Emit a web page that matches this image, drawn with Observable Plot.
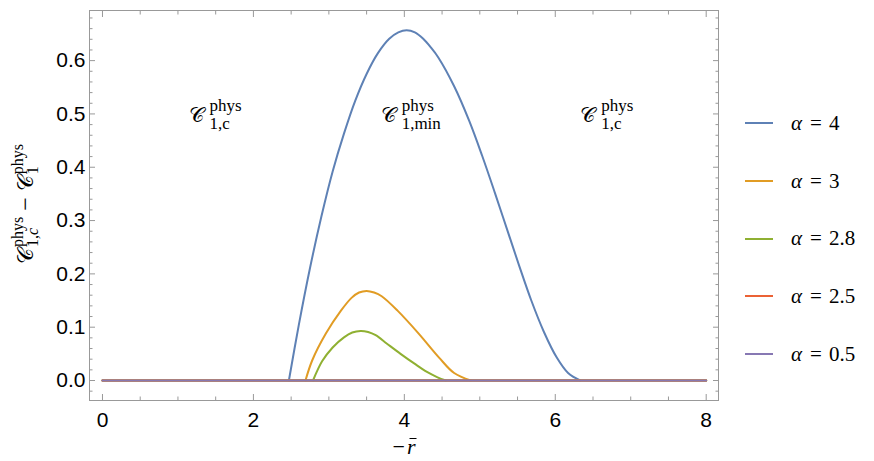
<!DOCTYPE html>
<html>
<head>
<meta charset="utf-8">
<script src="https://cdn.jsdelivr.net/npm/d3@7"></script>
<script src="https://cdn.jsdelivr.net/npm/@observablehq/plot@0.6"></script>
<style>
  body { margin: 0; background: #fff; }
  #wrap { position: relative; width: 874px; height: 461px; overflow: hidden; background: #fff; }
  #wrap svg { position: absolute; left: 0; top: 0; }
  .cal { font-family: "DejaVu Sans", "Liberation Serif", serif; font-style: normal; font-size: 22px; }
  #ylab { position: absolute; left: 30px; top: 204px; transform: translate(-50%, -50%) rotate(-90deg);
          white-space: nowrap; font-family: "Liberation Serif", serif; font-size: 24px; line-height: 30px; color: #000; }
  #ylab .ss { display: inline-flex; flex-direction: column; position: relative; top: -10px; font-size: 16px; line-height: 15px; vertical-align: baseline; margin-left: 1px; }
  #ylab .op { margin: 0 6px; }
  #xlab { position: absolute; left: 404px; top: 437px; transform: translateX(-50%); white-space: nowrap;
          font-family: "Liberation Serif", serif; font-size: 22px; line-height: 20px; }
  #xlab .rb { position: relative; display: inline-block; margin-left: 2px; }
  #xlab .bar { position: absolute; left: 3px; right: -1px; top: 1px; border-top: 1.3px solid #000; }
  #legend { position: absolute; left: 745px; top: 94.5px; font-family: "Liberation Serif", serif; font-size: 21px; }
  #legend .row { height: 57.7px; display: flex; align-items: center; }
  #legend .sw { width: 28px; height: 2px; margin-right: 18px; }
  #legend .eq { margin: 0 7px 0 8px; }
</style>
</head>
<body>
<div id="wrap"></div>
<script>
// ---- data ----
const alpha4X = [0, 2.47, 2.60, 2.75, 2.90, 3.05, 3.20, 3.35, 3.50, 3.65, 3.80, 3.92, 4.03,
                 4.14, 4.25, 4.35, 4.45, 4.66, 4.86, 5.03, 5.20, 5.36, 5.52, 5.68, 5.85, 6.02, 6.17, 6.33, 8];
const alpha4Y = [0, 0, 0.103, 0.211, 0.307, 0.392, 0.463, 0.525, 0.575, 0.614, 0.641, 0.653, 0.657,
                 0.653, 0.641, 0.625, 0.606, 0.552, 0.487, 0.422, 0.352, 0.284, 0.216, 0.151, 0.091, 0.043, 0.014, 0, 0];

const alpha3X = [0, 2.69, 2.78, 2.96, 3.16, 3.30, 3.40, 3.50, 3.60, 3.70, 3.91, 4.19, 4.46, 4.66, 4.88, 8];
const alpha3Y = [0, 0, 0.038, 0.088, 0.131, 0.155, 0.165, 0.168, 0.165, 0.158, 0.131, 0.088, 0.043, 0.014, 0, 0];

const alpha28X = [0, 2.79, 2.91, 3.05, 3.20, 3.31, 3.42, 3.52, 3.62, 3.77, 3.95, 4.13, 4.30, 4.44, 4.55, 8];
const alpha28Y = [0, 0, 0.036, 0.062, 0.081, 0.090, 0.093, 0.091, 0.085, 0.069, 0.050, 0.032, 0.016, 0.006, 0, 0];

const alpha25X = [0, 8];
const alpha25Y = [0, 0];

const alpha05X = [0, 8];
const alpha05Y = [0, 0];

const seriesNames = ["4", "3", "2.8", "2.5", "0.5"];
const seriesColors = ["#5E81B5", "#E19C24", "#8FB032", "#EB6235", "#8778B3"];

const xMajor = [0, 2, 4, 6, 8];
const xMinor = [0.5, 1, 1.5, 2.5, 3, 3.5, 4.5, 5, 5.5, 6.5, 7, 7.5];
const yMajor = [0, 0.1, 0.2, 0.3, 0.4, 0.5, 0.6];
const yMinor = [-0.02, 0.02, 0.04, 0.06, 0.08, 0.12, 0.14, 0.16, 0.18, 0.22, 0.24, 0.26, 0.28,
                0.32, 0.34, 0.36, 0.38, 0.42, 0.44, 0.46, 0.48, 0.52, 0.54, 0.56, 0.58, 0.62, 0.64, 0.66, 0.68];

const regionX = [1.14, 3.686, 6.33];
const regionY = [0.484, 0.484, 0.484];
const regionSup = ["phys", "phys", "phys"];
const regionSub = ["1,c", "1,min", "1,c"];

// ---- build tables ----
const seriesXY = [[alpha4X, alpha4Y], [alpha3X, alpha3Y], [alpha28X, alpha28Y], [alpha25X, alpha25Y], [alpha05X, alpha05Y]];
const seriesData = seriesXY.map(([xs, ys]) => xs.map((x, i) => ({x, y: ys[i], i, n: xs.length})));
const regions = regionX.map((x, i) => ({x, y: regionY[i], sup: regionSup[i], sub: regionSub[i]}));

const gray = "#999";
const serif = "Liberation Serif, serif";
const fmtY = d3.format(".1f");

// bump part (smooth) and flat zero part (straight) of each series
const lineMarks = seriesData.flatMap((d, k) => {
  const bump = d.filter(p => p.i > 0 && p.i < p.n - 1);
  const flat = d.filter(p => p.y === 0);
  const marks = [Plot.line(flat, {x: "x", y: "y", stroke: seriesColors[k], strokeWidth: 2})];
  if (bump.length > 2) marks.push(Plot.line(bump, {x: "x", y: "y", stroke: seriesColors[k], strokeWidth: 2, curve: "catmull-rom"}));
  return marks;
});

const plot = Plot.plot({
  width: 874,
  height: 461,
  marginTop: 10,
  marginBottom: 61,
  marginLeft: 89,
  marginRight: 156,
  x: {domain: [-0.172, 8.163]},
  y: {domain: [-0.0375, 0.694]},
  style: {fontFamily: "Liberation Sans, Arial, sans-serif", background: "white", overflow: "visible"},
  marks: [
    Plot.frame({stroke: gray, strokeWidth: 1}),
    // inward ticks on all four sides
    Plot.axisX({anchor: "bottom", ticks: xMajor, tickSize: -6, fill: "none", stroke: gray, label: null}),
    Plot.axisX({anchor: "bottom", ticks: xMinor, tickSize: -3.5, fill: "none", stroke: gray, label: null}),
    Plot.axisX({anchor: "top", ticks: xMajor, tickSize: -6, fill: "none", stroke: gray, label: null}),
    Plot.axisX({anchor: "top", ticks: xMinor, tickSize: -3.5, fill: "none", stroke: gray, label: null}),
    Plot.axisY({anchor: "left", ticks: yMajor, tickSize: -6, fill: "none", stroke: gray, label: null}),
    Plot.axisY({anchor: "left", ticks: yMinor, tickSize: -3.5, fill: "none", stroke: gray, label: null}),
    Plot.axisY({anchor: "right", ticks: yMajor, tickSize: -6, fill: "none", stroke: gray, label: null}),
    Plot.axisY({anchor: "right", ticks: yMinor, tickSize: -3.5, fill: "none", stroke: gray, label: null}),
    // tick labels
    Plot.axisX({anchor: "bottom", ticks: xMajor, tickSize: 0, tickPadding: 12, tickFormat: d => String(d), fontSize: 21, fill: "#000", label: null}),
    Plot.axisY({anchor: "left", ticks: yMajor, tickSize: 0, tickPadding: 4, tickFormat: fmtY, fontSize: 21, fill: "#000", label: null}),
    // curves
    ...lineMarks,
    // region labels
    Plot.text(regions, {x: "x", y: "y", text: () => "\u{1D49E}", textAnchor: "start", lineAnchor: "bottom",
      fontSize: 21, fontFamily: "DejaVu Sans, Liberation Serif, serif", fill: "#000"}),
    Plot.text(regions, {x: "x", y: "y", text: "sup", textAnchor: "start", lineAnchor: "bottom", dx: 21, dy: -11,
      fontSize: 17, fontFamily: serif, fill: "#000"}),
    Plot.text(regions, {x: "x", y: "y", text: "sub", textAnchor: "start", lineAnchor: "bottom", dx: 21, dy: 7,
      fontSize: 17, fontFamily: serif, fill: "#000", ariaLabel: "subscripts"})
  ]
});

// italic c in subscripts
d3.select(plot).selectAll('g[aria-label="subscripts"] text').each(function () {
  const t = this.textContent;
  if (t.endsWith(",c")) {
    this.textContent = "1,";
    d3.select(this).append("tspan").attr("font-style", "italic").text("c");
  }
});

const wrap = document.getElementById("wrap");
wrap.appendChild(plot);

// y axis label
const ylab = document.createElement("div");
ylab.id = "ylab";
ylab.innerHTML = '<span class="cal">\u{1D49E}</span><span class="ss"><span>phys</span><span>1,<i>c</i></span></span>' +
  '<span class="op">\u2212</span><span class="cal">\u{1D49E}</span><span class="ss"><span>phys</span><span>1</span></span>';
wrap.appendChild(ylab);

// x axis label
const xlab = document.createElement("div");
xlab.id = "xlab";
xlab.innerHTML = '\u2212<i class="rb">r<span class="bar"></span></i>';
wrap.appendChild(xlab);

// legend
const legend = document.createElement("div");
legend.id = "legend";
seriesNames.forEach((name, i) => {
  const row = document.createElement("div");
  row.className = "row";
  row.innerHTML = `<span class="sw" style="background:${seriesColors[i]}"></span><i>\u03B1</i><span class="eq">=</span><span>${name}</span>`;
  legend.appendChild(row);
});
wrap.appendChild(legend);
</script>
</body>
</html>
